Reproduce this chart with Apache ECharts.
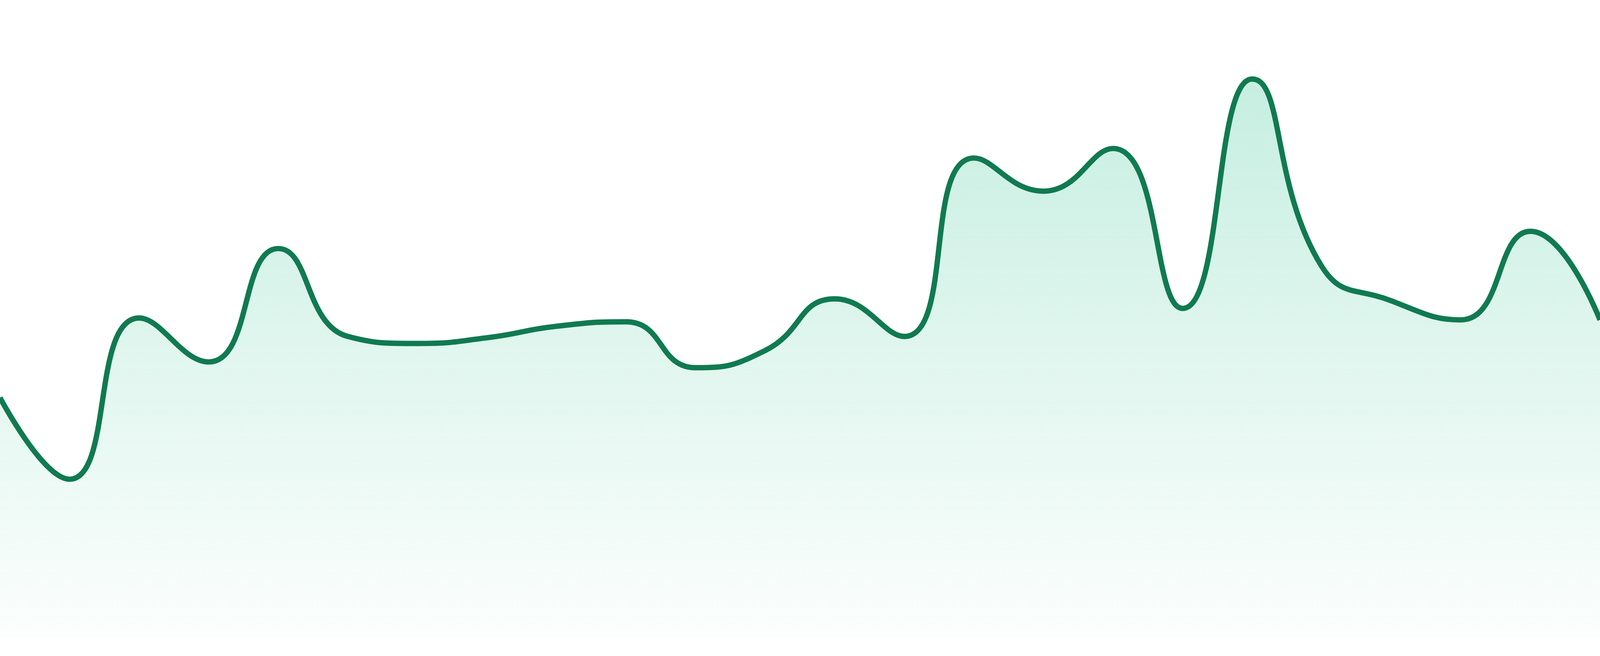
<!DOCTYPE html>
<html>
<head>
<meta charset="utf-8">
<script src="https://cdn.jsdelivr.net/npm/echarts@6/dist/echarts.min.js"></script>
<style>
  html, body { margin: 0; padding: 0; background: #ffffff; overflow: hidden; }
  #chart { width: 100vw; height: 100vh; }
</style>
</head>
<body>
<div id="chart"></div>
<script>
let categories = ['1', '2', '3', '4', '5', '6', '7', '8', '9', '10', '11', '12',
                  '13', '14', '15', '16', '17', '18', '19', '20', '21', '22', '23', '24'];
let values = [37.6, 24.8, 50.1, 43.2, 61.0, 47.2, 46.1, 47.0, 48.8, 49.5, 42.3, 45.0,
              53.1, 47.2, 75.2, 70.0, 76.7, 51.6, 87.6, 58.2, 52.8, 49.8, 63.7, 49.8];

// the picture is 4800 px wide; scale pixel sizes to whatever the css viewport is
let scale = window.innerWidth / 4800;

const dom = document.getElementById("chart");
const myChart = echarts.init(dom);
const option = {
    animation: false,
    grid: {
        left: 0,
        right: 0,
        top: 0,
        bottom: '2.857%'
    },
    xAxis: {
        type: 'category',
        data: categories,
        boundaryGap: false,
        show: false
    },
    yAxis: {
        type: 'value',
        min: 0,
        max: 100,
        show: false
    },
    series: [{
        type: 'line',
        data: values,
        smooth: true,
        symbol: 'none',
        lineStyle: {
            color: '#107a50',
            width: 16 * scale
        },
        areaStyle: {
            color: new echarts.graphic.LinearGradient(0, 0, 0, 1, [
                { offset: 0, color: 'rgba(16,185,129,0.34)' },
                { offset: 1, color: 'rgba(16,185,129,0.02)' }
            ])
        }
    }]
};
myChart.setOption(option, true);
</script>
</body>
</html>
